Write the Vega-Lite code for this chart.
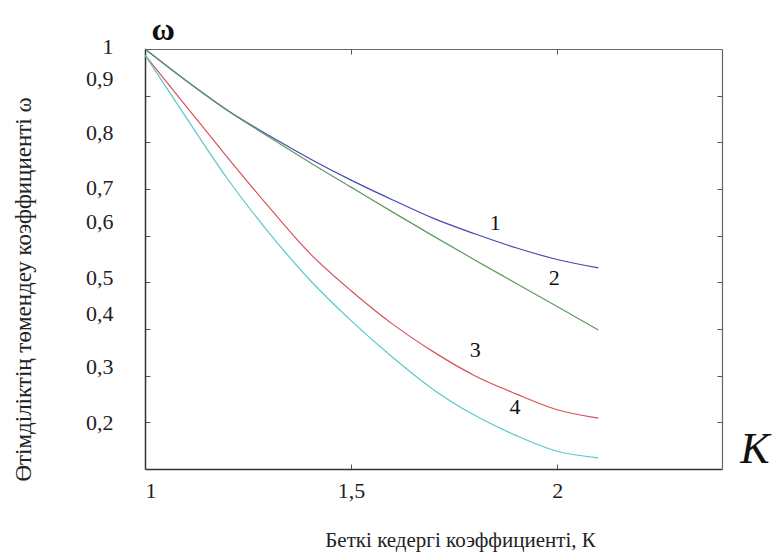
{
  "$schema": "https://vega.github.io/schema/vega-lite/v6.json",
  "width": 577,
  "height": 420,
  "autosize": "none",
  "padding": {"left": 145, "top": 49, "right": 50, "bottom": 90},
  "background": "white",
  "config": {"view": {"stroke": null}, "font": "Liberation Serif"},
  "datasets": {
    "curves": [
      {"curve": "1", "K": 1.0, "w": 1.0},
      {"curve": "1", "K": 1.1, "w": 0.932},
      {"curve": "1", "K": 1.2, "w": 0.869},
      {"curve": "1", "K": 1.3, "w": 0.815},
      {"curve": "1", "K": 1.4, "w": 0.765},
      {"curve": "1", "K": 1.5, "w": 0.719},
      {"curve": "1", "K": 1.6, "w": 0.677},
      {"curve": "1", "K": 1.7, "w": 0.637},
      {"curve": "1", "K": 1.8, "w": 0.604},
      {"curve": "1", "K": 1.9, "w": 0.574},
      {"curve": "1", "K": 2.0, "w": 0.549},
      {"curve": "1", "K": 2.1, "w": 0.531},
      {"curve": "2", "K": 1.0, "w": 1.0},
      {"curve": "2", "K": 1.1, "w": 0.932},
      {"curve": "2", "K": 1.2, "w": 0.868},
      {"curve": "2", "K": 1.3, "w": 0.812},
      {"curve": "2", "K": 1.4, "w": 0.757},
      {"curve": "2", "K": 1.5, "w": 0.704},
      {"curve": "2", "K": 1.6, "w": 0.651},
      {"curve": "2", "K": 1.7, "w": 0.599},
      {"curve": "2", "K": 1.8, "w": 0.548},
      {"curve": "2", "K": 1.9, "w": 0.498},
      {"curve": "2", "K": 2.0, "w": 0.448},
      {"curve": "2", "K": 2.1, "w": 0.398},
      {"curve": "3", "K": 1.0, "w": 0.987},
      {"curve": "3", "K": 1.1, "w": 0.877},
      {"curve": "3", "K": 1.2, "w": 0.768},
      {"curve": "3", "K": 1.3, "w": 0.662},
      {"curve": "3", "K": 1.4, "w": 0.562},
      {"curve": "3", "K": 1.5, "w": 0.482},
      {"curve": "3", "K": 1.6, "w": 0.411},
      {"curve": "3", "K": 1.7, "w": 0.351},
      {"curve": "3", "K": 1.8, "w": 0.3},
      {"curve": "3", "K": 1.9, "w": 0.261},
      {"curve": "3", "K": 2.0, "w": 0.227},
      {"curve": "3", "K": 2.1, "w": 0.209},
      {"curve": "4", "K": 1.0, "w": 0.987},
      {"curve": "4", "K": 1.1, "w": 0.853},
      {"curve": "4", "K": 1.2, "w": 0.722},
      {"curve": "4", "K": 1.3, "w": 0.607},
      {"curve": "4", "K": 1.4, "w": 0.505},
      {"curve": "4", "K": 1.5, "w": 0.418},
      {"curve": "4", "K": 1.6, "w": 0.34},
      {"curve": "4", "K": 1.7, "w": 0.27},
      {"curve": "4", "K": 1.8, "w": 0.215},
      {"curve": "4", "K": 1.9, "w": 0.172},
      {"curve": "4", "K": 2.0, "w": 0.138},
      {"curve": "4", "K": 2.1, "w": 0.124}
    ],
    "curveLabels": [
      {"label": "1", "K": 1.85, "w": 0.627},
      {"label": "2", "K": 1.993, "w": 0.509},
      {"label": "3", "K": 1.801, "w": 0.355},
      {"label": "4", "K": 1.898, "w": 0.233}
    ],
    "bigK": [{"label": "K", "K": 2.48, "w": 0.141}],
    "omega": [{"label": "ω", "K": 1.044, "w": 1.04}]
  },
  "layer": [
    {
      "data": {"name": "curves"},
      "mark": {"type": "line", "strokeWidth": 1.2, "interpolate": "monotone"},
      "encoding": {
        "x": {
          "field": "K", "type": "quantitative",
          "scale": {"domain": [1, 2.4], "nice": false, "zero": false},
          "axis": {
            "orient": "bottom",
            "values": [1, 1.5, 2],
            "labelExpr": "replace(format(datum.value, ''), '.', ',')",
            "tickSize": -5, "tickColor": "#555", "tickWidth": 1,
            "domainColor": "#333", "domainWidth": 1.5,
            "labelPadding": 16, "labelFont": "Liberation Serif", "labelFontSize": 22, "labelColor": "#222",
            "grid": false,
            "title": "Беткі кедергі коэффициенті, К",
            "titleFont": "Liberation Serif", "titleFontSize": 21, "titleFontWeight": "normal", "titleColor": "#222",
            "titleX": 315, "titleY": 71, "titleBaseline": "middle", "titleAlign": "center"
          }
        },
        "y": {
          "field": "w", "type": "quantitative",
          "scale": {"domain": [0.1, 1], "nice": false, "zero": false},
          "axis": {
            "orient": "left",
            "values": [0.2, 0.3, 0.4, 0.5, 0.6, 0.7, 0.8, 0.9, 1],
            "labelExpr": "datum.value == 1 ? '1' : replace(format(datum.value, '.1f'), '.', ',')",
            "labelOffset": {
              "condition": [
                {"test": "datum.value == 1", "value": -3},
                {"test": "datum.value == 0.9", "value": -17},
                {"test": "datum.value == 0.8", "value": -10},
                {"test": "datum.value == 0.7", "value": -2},
                {"test": "datum.value == 0.6", "value": -14},
                {"test": "datum.value == 0.5", "value": -5},
                {"test": "datum.value == 0.4", "value": -16},
                {"test": "datum.value == 0.3", "value": -9}
              ],
              "value": 0
            },
            "tickSize": -5, "tickColor": "#555", "tickWidth": 1,
            "domainColor": "#333", "domainWidth": 1.5,
            "labelPadding": 37, "labelFont": "Liberation Serif", "labelFontSize": 22, "labelColor": "#222",
            "grid": false,
            "title": "Өтімділіктің төмендеу коэффициенті ω",
            "titleFont": "Liberation Serif", "titleFontSize": 23, "titleFontWeight": "normal", "titleColor": "#222",
            "titleX": -122, "titleY": 240, "titleBaseline": "middle", "titleAlign": "center", "titleAngle": -90
          }
        },
        "color": {
          "field": "curve", "type": "nominal",
          "scale": {"domain": ["1", "2", "3", "4"], "range": ["#4747b5", "#5e9a5e", "#d9505a", "#5cc8c8"]},
          "legend": null
        }
      }
    },
    {
      "data": {"name": "curveLabels"},
      "mark": {"type": "text", "font": "Liberation Serif", "fontSize": 22, "color": "#111"},
      "encoding": {
        "x": {
          "field": "K", "type": "quantitative",
          "scale": {"domain": [1, 2.4], "nice": false, "zero": false},
          "axis": {"orient": "top", "values": [1.5, 2], "labels": false, "tickSize": -5, "tickColor": "#555",
                   "domainColor": "#666", "domainWidth": 1.2, "grid": false, "title": null}
        },
        "y": {
          "field": "w", "type": "quantitative",
          "scale": {"domain": [0.1, 1], "nice": false, "zero": false},
          "axis": {"orient": "right", "values": [0.2, 0.3, 0.4, 0.5, 0.6, 0.7, 0.8, 0.9], "labels": false, "tickSize": -5,
                   "tickColor": "#555", "domainColor": "#666", "domainWidth": 1.2, "grid": false, "title": null}
        },
        "text": {"field": "label", "type": "nominal"}
      }
    },
    {
      "data": {"name": "bigK"},
      "mark": {"type": "text", "font": "Liberation Serif", "fontSize": 44, "fontStyle": "italic", "color": "#111"},
      "encoding": {
        "x": {"field": "K", "type": "quantitative", "scale": {"domain": [1, 2.4], "nice": false, "zero": false}, "axis": null},
        "y": {"field": "w", "type": "quantitative", "scale": {"domain": [0.1, 1], "nice": false, "zero": false}, "axis": null},
        "text": {"field": "label", "type": "nominal"}
      }
    },
    {
      "data": {"name": "omega"},
      "mark": {"type": "text", "font": "Liberation Serif", "fontSize": 32, "fontWeight": "bold", "color": "#111"},
      "encoding": {
        "x": {"field": "K", "type": "quantitative", "scale": {"domain": [1, 2.4], "nice": false, "zero": false}, "axis": null},
        "y": {"field": "w", "type": "quantitative", "scale": {"domain": [0.1, 1], "nice": false, "zero": false}, "axis": null},
        "text": {"field": "label", "type": "nominal"}
      }
    }
  ],
  "resolve": {"axis": {"x": "independent", "y": "independent"}}
}
